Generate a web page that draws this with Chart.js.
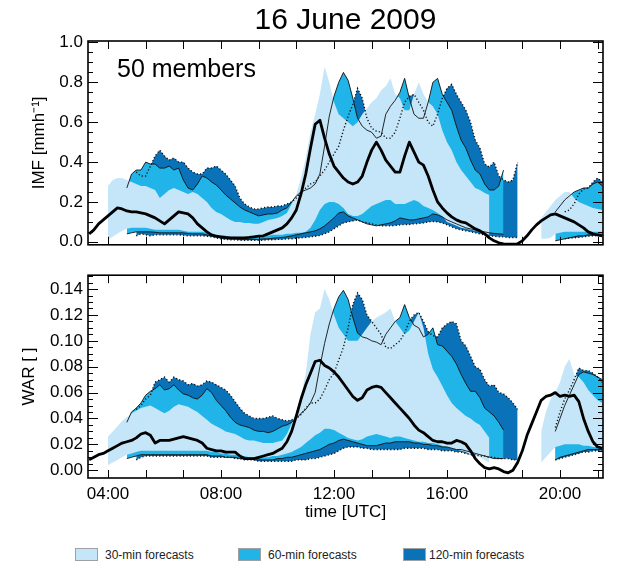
<!DOCTYPE html>
<html>
<head>
<meta charset="utf-8">
<title>16 June 2009</title>
<script src="https://cdn.jsdelivr.net/npm/chart.js@4.4.1/dist/chart.umd.min.js"></script>
<style>
  body { margin: 0; background: #fff; }
  #wrap { position: relative; width: 630px; height: 570px; overflow: hidden;
          font-family: "Liberation Sans", Arial, Helvetica, sans-serif; color: #000; }
  canvas { position: absolute; left: 0; }
  .title { position: absolute; left: 88px; width: 515px; top: 4px; text-align: center;
           font-size: 30px; line-height: 30px; white-space: nowrap; }
  .key { position: absolute; top: 548px; width: 21px; height: 11px; border: 1px solid #a0a0a0; }
  .klbl { position: absolute; top: 549px; font-size: 12px; line-height: 12px; white-space: nowrap; color: #222; }
</style>
</head>
<body>
<div id="wrap">
  <canvas id="imf" width="630" height="260" style="top:0"></canvas>
  <canvas id="war" width="630" height="270" style="top:260px"></canvas>
  <div class="title">16 June 2009</div>
  <div class="key" style="left:75px;background:#c4e6f8"></div>
  <div class="klbl" style="left:105px">30-min forecasts</div>
  <div class="key" style="left:238px;background:#20b4e8"></div>
  <div class="klbl" style="left:268px">60-min forecasts</div>
  <div class="key" style="left:403px;background:#0a72b8"></div>
  <div class="klbl" style="left:429px">120-min forecasts</div>
</div>
<script>
// one value every 10 minutes, 03:20 .. 21:30 UTC (one row per hour)
const _ = null;

// ---- IMF panel ----
const imfObs = [
  0.04, 0.06, 0.09, 0.11,
  0.13, 0.15, 0.17, 0.165, 0.155, 0.15,
  0.15, 0.145, 0.14, 0.13, 0.12, 0.105,
  0.09, 0.11, 0.13, 0.15, 0.145, 0.14,
  0.12, 0.09, 0.07, 0.05, 0.035, 0.028,
  0.025, 0.022, 0.02, 0.02, 0.02, 0.02,
  0.022, 0.025, 0.028, 0.03, 0.04, 0.05,
  0.06, 0.07, 0.09, 0.12, 0.16, 0.24,
  0.34, 0.47, 0.59, 0.61, 0.52, 0.44,
  0.38, 0.35, 0.32, 0.30, 0.29, 0.30,
  0.33, 0.40, 0.46, 0.50, 0.46, 0.41,
  0.38, 0.35, 0.35, 0.43, 0.50, 0.45,
  0.40, 0.385, 0.33, 0.26, 0.20, 0.17,
  0.145, 0.125, 0.11, 0.10, 0.095, 0.08,
  0.065, 0.055, 0.04, 0.02, 0.005, -0.005,
  -0.01, -0.012, -0.012, -0.01, 0.005, 0.03,
  0.06, 0.085, 0.105, 0.12, 0.135, 0.14,
  0.13, 0.12, 0.11, 0.10, 0.085, 0.07,
  0.05, 0.04, 0.035, 0.03
];
const imfLightHi = [
  _, _, _, _,
  0.28, 0.31, 0.32, 0.32, 0.31, 0.30,
  0.29, 0.28, 0.28, 0.27, 0.26, 0.22,
  0.24, 0.26, 0.27, 0.26, 0.25, 0.24,
  0.25, 0.24, 0.22, 0.20, 0.17, 0.15,
  0.14, 0.125, 0.11, 0.10, 0.10, 0.095,
  0.095, 0.09, 0.09, 0.10, 0.11, 0.115,
  0.12, 0.13, 0.145, 0.19, 0.24, 0.32,
  0.42, 0.55, 0.64, 0.74, 0.88, 0.80,
  0.70, 0.64, 0.62, 0.60, 0.58, 0.60,
  0.64, 0.67, 0.70, 0.72, 0.76, 0.78,
  0.82, 0.74, 0.72, 0.66, 0.66, 0.74,
  0.80, 0.74, 0.70, 0.68, 0.64, 0.56,
  0.50, 0.46, 0.40, 0.36, 0.33, 0.30,
  0.27, 0.26, 0.245, 0.235, _, _,
  _, _, _, _, _, _,
  _, _, 0.12, 0.15, 0.18, 0.21,
  0.23, 0.25, 0.25, 0.22, 0.20, 0.19,
  0.18, 0.17, 0.165, 0.16
];
const imfLightLo = [
  _, _, _, _,
  0.01, 0.025, 0.04, 0.055, 0.065, 0.07,
  0.07, 0.07, 0.07, 0.065, 0.06, 0.06,
  0.06, 0.06, 0.06, 0.06, 0.055, 0.05,
  0.05, 0.05, 0.05, 0.045, 0.04, 0.035,
  0.03, 0.03, 0.025, 0.025, 0.02, 0.02,
  0.02, 0.02, 0.02, 0.025, 0.03, 0.035,
  0.035, 0.035, 0.04, 0.04, 0.045, 0.045,
  0.05, 0.07, 0.11, 0.16, 0.19, 0.20,
  0.20, 0.19, 0.17, 0.14, 0.13, 0.13,
  0.14, 0.16, 0.18, 0.19, 0.20, 0.21,
  0.21, 0.19, 0.19, 0.19, 0.20, 0.21,
  0.20, 0.18, 0.17, 0.16, 0.145, 0.13,
  0.10, 0.09, 0.08, 0.07, 0.065, 0.06,
  0.055, 0.05, 0.04, 0.035, _, _,
  _, _, _, _, _, _,
  _, _, 0.015, 0.015, 0.02, 0.04,
  0.045, 0.05, 0.05, 0.05, 0.05, 0.05,
  0.05, 0.05, 0.05, 0.05
];
const imfMedHi = [
  _, _, _, _,
  _, _, _, _, 0.27, 0.34,
  0.36, 0.36, 0.40, 0.39, 0.39, 0.37,
  0.37, 0.38, 0.36, 0.37, 0.31, 0.27,
  0.26, 0.29, 0.33, 0.32, 0.30, 0.285,
  0.26, 0.235, 0.215, 0.195, 0.175, 0.16,
  0.15, 0.14, 0.13, 0.135, 0.14, 0.14,
  0.145, 0.16, 0.17, 0.20, 0.23, 0.25,
  0.26, 0.27, 0.29, 0.34, 0.48, 0.63,
  0.73, 0.80, 0.85, 0.81, 0.72, 0.62,
  0.58, 0.56, 0.55, 0.52, 0.53, 0.64,
  0.68, 0.71, 0.75, 0.82, 0.72, 0.64,
  0.62, 0.62, 0.70, 0.80, 0.82, 0.74,
  0.70, 0.66, 0.58, 0.51, 0.47, 0.41,
  0.36, 0.34, 0.29, 0.26, 0.26, 0.28,
  0.36, _, _, _, _, _,
  _, _, _, _, _, 0.15,
  0.18, 0.21, 0.23, 0.25, 0.26, 0.27,
  0.27, 0.29, 0.30, 0.28
];
const imfMedLo = [
  _, _, _, _,
  _, _, _, _, 0.04, 0.045,
  0.05, 0.05, 0.05, 0.05, 0.048, 0.045,
  0.045, 0.045, 0.045, 0.045, 0.045, 0.042,
  0.04, 0.04, 0.04, 0.035, 0.03, 0.025,
  0.02, 0.018, 0.015, 0.015, 0.012, 0.012,
  0.012, 0.012, 0.012, 0.015, 0.015, 0.018,
  0.02, 0.022, 0.025, 0.03, 0.035, 0.04,
  0.045, 0.05, 0.055, 0.065, 0.08, 0.10,
  0.12, 0.145, 0.15, 0.13, 0.12, 0.11,
  0.10, 0.09, 0.085, 0.08, 0.085, 0.09,
  0.095, 0.105, 0.12, 0.115, 0.11, 0.11,
  0.115, 0.12, 0.125, 0.14, 0.135, 0.125,
  0.11, 0.10, 0.09, 0.08, 0.07, 0.065,
  0.06, 0.055, 0.05, 0.045, 0.042, 0.04,
  0.038, _, _, _, _, _,
  _, _, _, _, _, 0.005,
  0.01, 0.015, 0.02, 0.025, 0.03, 0.03,
  0.035, 0.035, 0.035, 0.035
];
const imfDarkHi = [
  _, _, _, _,
  _, _, _, _, _, _,
  0.35, 0.33, 0.33, 0.38, 0.43, 0.46,
  0.43, 0.41, 0.42, 0.40, 0.40, 0.37,
  0.35, 0.34, 0.34, 0.37, 0.37, 0.38,
  0.36, 0.34, 0.31, 0.28, 0.22, 0.19,
  0.175, 0.165, 0.165, 0.17, 0.175, 0.175,
  0.18, 0.18, 0.19, 0.20, 0.22, 0.25,
  0.27, 0.29, 0.30, 0.33, 0.36, 0.40,
  0.44, 0.48, 0.56, 0.63, 0.69, 0.77,
  0.72, 0.62, 0.57, 0.555, 0.55, 0.52,
  0.52, 0.55, 0.62, 0.70, 0.73, 0.74,
  0.70, 0.66, 0.60, 0.58, 0.64, 0.72,
  0.77, 0.79, 0.74, 0.70, 0.66, 0.60,
  0.51, 0.47, 0.39, 0.375, 0.40, 0.33,
  0.31, 0.30, 0.31, 0.40, _, _,
  _, _, _, _, _, _,
  _, 0.15, 0.16, 0.19, 0.24, 0.265,
  0.27, 0.30, 0.32, 0.30
];
const imfDarkLo = [
  _, _, _, _,
  _, _, _, _, _, _,
  0.03, 0.04, 0.035, 0.03, 0.035, 0.035,
  0.035, 0.035, 0.035, 0.035, 0.033, 0.03,
  0.03, 0.03, 0.03, 0.028, 0.025, 0.02,
  0.015, 0.012, 0.01, 0.01, 0.008, 0.008,
  0.008, 0.008, 0.008, 0.008, 0.01, 0.01,
  0.012, 0.012, 0.015, 0.015, 0.018, 0.02,
  0.022, 0.025, 0.028, 0.032, 0.04, 0.05,
  0.065, 0.08, 0.095, 0.10, 0.105, 0.11,
  0.10, 0.095, 0.09, 0.085, 0.08, 0.08,
  0.08, 0.082, 0.085, 0.087, 0.087, 0.09,
  0.092, 0.095, 0.10, 0.102, 0.10, 0.095,
  0.085, 0.075, 0.065, 0.06, 0.055, 0.05,
  0.045, 0.04, 0.035, 0.03, 0.028, 0.025,
  0.025, 0.022, 0.022, 0.022, _, _,
  _, _, _, _, _, _,
  _, 0.015, 0.018, 0.02, 0.022, 0.025,
  0.028, 0.03, 0.03, 0.03
];

// ---- WAR panel ----
const warObs = [
  0.008, 0.010, 0.012, 0.013,
  0.015, 0.017, 0.019, 0.021, 0.022, 0.023,
  0.025, 0.028, 0.029, 0.027, 0.021, 0.023,
  0.023, 0.023, 0.024, 0.025, 0.026, 0.025,
  0.024, 0.023, 0.021, 0.017, 0.016, 0.015,
  0.015, 0.014, 0.014, 0.014, 0.011, 0.009,
  0.009, 0.009, 0.010, 0.011, 0.012, 0.013,
  0.015, 0.017, 0.022, 0.030, 0.042, 0.055,
  0.066, 0.075, 0.084, 0.085, 0.081, 0.079,
  0.076, 0.072, 0.067, 0.062, 0.057, 0.054,
  0.056, 0.062, 0.064, 0.065, 0.064, 0.060,
  0.056, 0.052, 0.048, 0.044, 0.040, 0.035,
  0.031, 0.029, 0.026, 0.023, 0.022, 0.022,
  0.021, 0.021, 0.023, 0.022, 0.020, 0.015,
  0.009, 0.005, 0.002, 0.001, 0.002, 0.001,
  -0.001, -0.002, 0.000, 0.006, 0.015, 0.027,
  0.036, 0.045, 0.054, 0.057, 0.058, 0.060,
  0.057, 0.058, 0.057, 0.058, 0.053, 0.040,
  0.030, 0.022, 0.018, 0.017
];
const warLightHi = [
  _, _, _, _,
  0.026, 0.030, 0.034, 0.038, 0.041, 0.044,
  0.046, 0.048, 0.049, 0.050, 0.048, 0.046,
  0.044, 0.046, 0.049, 0.051, 0.050, 0.049,
  0.047, 0.045, 0.042, 0.039, 0.036, 0.034,
  0.032, 0.030, 0.029, 0.028, 0.026, 0.024,
  0.023, 0.023, 0.022, 0.021, 0.021, 0.021,
  0.022, 0.023, 0.028, 0.036, 0.045, 0.058,
  0.075, 0.105, 0.122, 0.125, 0.140, 0.132,
  0.120, 0.110, 0.105, 0.100, 0.100, 0.100,
  0.105, 0.110, 0.115, 0.118, 0.120, 0.122,
  0.125, 0.115, 0.110, 0.105, 0.108, 0.115,
  0.122, 0.110, 0.090, 0.078, 0.072, 0.065,
  0.058, 0.052, 0.048, 0.045, 0.042, 0.040,
  0.037, 0.035, 0.030, 0.025, _, _,
  _, _, _, _, _, _,
  _, _, 0.030, 0.045, 0.055, 0.060,
  0.068, 0.080, 0.086, 0.074, 0.072, 0.068,
  0.062, 0.058, 0.054, 0.052
];
const warLightLo = [
  _, _, _, _,
  0.004, 0.006, 0.008, 0.010, 0.012, 0.013,
  0.014, 0.015, 0.015, 0.015, 0.015, 0.015,
  0.015, 0.015, 0.015, 0.015, 0.015, 0.015,
  0.015, 0.015, 0.015, 0.015, 0.014, 0.014,
  0.013, 0.013, 0.012, 0.012, 0.011, 0.011,
  0.010, 0.010, 0.010, 0.010, 0.010, 0.011,
  0.011, 0.012, 0.013, 0.014, 0.016, 0.018,
  0.021, 0.024, 0.027, 0.029, 0.032, 0.032,
  0.031, 0.029, 0.027, 0.025, 0.024, 0.023,
  0.024, 0.026, 0.027, 0.028, 0.027, 0.026,
  0.025, 0.026, 0.026, 0.025, 0.024, 0.023,
  0.022, 0.022, 0.021, 0.021, 0.020, 0.019,
  0.018, 0.017, 0.016, 0.015, 0.014, 0.012,
  0.011, 0.010, 0.008, 0.006, _, _,
  _, _, _, _, _, _,
  _, _, 0.006, 0.010, 0.014, 0.018,
  0.019, 0.020, 0.020, 0.020, 0.020, 0.019,
  0.019, 0.018, 0.018, 0.018
];
const warMedHi = [
  _, _, _, _,
  _, _, _, _, 0.037, 0.045,
  0.048, 0.052, 0.058, 0.061, 0.063, 0.066,
  0.062, 0.063, 0.066, 0.062, 0.059, 0.058,
  0.056, 0.055, 0.058, 0.063, 0.060, 0.054,
  0.050, 0.046, 0.041, 0.037, 0.035, 0.034,
  0.033, 0.031, 0.030, 0.030, 0.029, 0.030,
  0.032, 0.034, 0.035, 0.037, 0.040, 0.044,
  0.047, 0.052, 0.060, 0.080, 0.098, 0.113,
  0.125, 0.134, 0.139, 0.132, 0.118, 0.106,
  0.103, 0.102, 0.100, 0.099, 0.097, 0.105,
  0.110, 0.115, 0.118, 0.128, 0.118, 0.112,
  0.110, 0.103, 0.105, 0.110, 0.097, 0.096,
  0.092, 0.088, 0.082, 0.074, 0.067, 0.061,
  0.061, 0.056, 0.048, 0.045, 0.042, 0.037,
  0.031, _, _, _, _, _,
  _, _, _, _, _, 0.030,
  0.040, 0.050, 0.058, 0.066, 0.074, 0.076,
  0.075, 0.074, 0.072, 0.070
];
const warMedLo = [
  _, _, _, _,
  _, _, _, _, 0.009, 0.010,
  0.011, 0.012, 0.012, 0.012, 0.012, 0.012,
  0.012, 0.012, 0.012, 0.012, 0.012, 0.012,
  0.012, 0.012, 0.012, 0.012, 0.011, 0.011,
  0.011, 0.010, 0.010, 0.010, 0.009, 0.009,
  0.009, 0.008, 0.008, 0.008, 0.008, 0.008,
  0.009, 0.009, 0.010, 0.010, 0.011, 0.012,
  0.013, 0.014, 0.015, 0.016, 0.018, 0.020,
  0.021, 0.023, 0.024, 0.023, 0.022, 0.021,
  0.020, 0.019, 0.019, 0.019, 0.020, 0.021,
  0.021, 0.022, 0.022, 0.022, 0.022, 0.021,
  0.021, 0.020, 0.020, 0.019, 0.019, 0.018,
  0.018, 0.017, 0.016, 0.016, 0.015, 0.014,
  0.013, 0.012, 0.011, 0.010, 0.009, 0.009,
  0.009, _, _, _, _, _,
  _, _, _, _, _, 0.008,
  0.010, 0.011, 0.012, 0.013, 0.014, 0.015,
  0.016, 0.016, 0.016, 0.016
];
const warDarkHi = [
  _, _, _, _,
  _, _, _, _, _, _,
  0.047, 0.050, 0.055, 0.058, 0.068, 0.070,
  0.072, 0.068, 0.072, 0.070, 0.069, 0.066,
  0.067, 0.065, 0.066, 0.069, 0.068, 0.066,
  0.064, 0.062, 0.058, 0.053, 0.048, 0.044,
  0.042, 0.040, 0.040, 0.040, 0.041, 0.042,
  0.040, 0.039, 0.038, 0.039, 0.040, 0.043,
  0.048, 0.052, 0.052, 0.055, 0.062, 0.070,
  0.075, 0.085, 0.095, 0.110, 0.128, 0.137,
  0.132, 0.120, 0.115, 0.110, 0.105, 0.095,
  0.094, 0.097, 0.100, 0.106, 0.115, 0.120,
  0.122, 0.115, 0.107, 0.104, 0.103, 0.110,
  0.113, 0.115, 0.113, 0.100, 0.096, 0.088,
  0.080, 0.078, 0.070, 0.065, 0.066, 0.060,
  0.059, 0.056, 0.052, 0.047, _, _,
  _, _, _, _, _, 0.033,
  0.045, 0.055, 0.062, 0.070, 0.079, 0.077,
  0.077, 0.075, 0.072, 0.068
];
const warDarkLo = [
  _, _, _, _,
  _, _, _, _, _, _,
  0.008, 0.010, 0.011, 0.011, 0.011, 0.011,
  0.011, 0.011, 0.011, 0.011, 0.011, 0.011,
  0.011, 0.011, 0.011, 0.011, 0.010, 0.010,
  0.010, 0.010, 0.010, 0.009, 0.009, 0.008,
  0.008, 0.008, 0.007, 0.007, 0.007, 0.007,
  0.007, 0.007, 0.007, 0.007, 0.008, 0.008,
  0.008, 0.009, 0.009, 0.010, 0.011, 0.012,
  0.013, 0.015, 0.017, 0.018, 0.018, 0.018,
  0.017, 0.017, 0.016, 0.016, 0.016, 0.016,
  0.016, 0.016, 0.016, 0.017, 0.017, 0.017,
  0.017, 0.017, 0.016, 0.016, 0.016, 0.015,
  0.015, 0.015, 0.014, 0.014, 0.013, 0.012,
  0.012, 0.011, 0.011, 0.010, 0.010, 0.009,
  0.009, 0.009, 0.008, 0.008, _, _,
  _, _, _, _, _, 0.008,
  0.009, 0.010, 0.011, 0.012, 0.013, 0.014,
  0.014, 0.015, 0.015, 0.015
];

// axis ticks
const imfTicks = [0, 0.2, 0.4, 0.6, 0.8, 1.0];
const warTicks = [0, 0.02, 0.04, 0.06, 0.08, 0.10, 0.12, 0.14];
const hourLabels = [4, 8, 12, 16, 20];
const hourMarks = [4, 16 / 3, 20 / 3, 8, 28 / 3, 32 / 3, 12, 40 / 3, 44 / 3, 16, 52 / 3, 56 / 3, 20, 64 / 3];

// sample times in decimal hours
const times = imfObs.map((v, i) => 3 + 1 / 3 + i / 6);

const LIGHT = '#c4e6f8';
const MED = '#20b4e8';
const DARK = '#0a72b8';
const FONT = '"Liberation Sans", Arial, Helvetica, sans-serif';
const X_MIN = 3.292;
const X_MAX = 21.522;

Chart.defaults.font.family = FONT;
Chart.defaults.color = '#000';

function pts(values) {
  return values.map((v, i) => ({ x: times[i], y: v }));
}

// bands first (dark under medium under light), then the outline lines on top
function panelDatasets(obs, lightHi, lightLo, medHi, medLo, darkHi, darkLo) {
  const band = { borderWidth: 0, borderColor: 'transparent', pointRadius: 0 };
  const line = { pointRadius: 0, fill: false, borderColor: '#111' };
  return [
    { ...band, data: pts(darkHi), fill: 1, backgroundColor: DARK, order: 30 },
    { ...band, data: pts(darkLo), fill: false, order: 31 },
    { ...band, data: pts(medHi), fill: 3, backgroundColor: MED, order: 20 },
    { ...band, data: pts(medLo), fill: false, order: 21 },
    { ...band, data: pts(lightHi), fill: 5, backgroundColor: LIGHT, order: 10 },
    { ...band, data: pts(lightLo), fill: false, order: 11 },
    { ...line, data: pts(medHi), borderWidth: 0.9, order: 4 },
    { ...line, data: pts(medLo), borderWidth: 0.9, order: 4 },
    { ...line, data: pts(darkHi), borderWidth: 1.4, borderDash: [1.2, 2.2], order: 3 },
    { ...line, data: pts(darkLo), borderWidth: 1.4, borderDash: [1.2, 2.2], order: 3 },
    { ...line, data: pts(obs), borderWidth: 2.8, borderColor: '#000', borderJoinStyle: 'round', order: 1 }
  ];
}

// frame with inward ticks on all four sides, plus optional note text
const frameTicks = {
  id: 'frameTicks',
  afterDatasetsDraw(chart, args, opts) {
    const { ctx, chartArea: a } = chart;
    const x = chart.scales.x;
    const y = chart.scales.y;
    ctx.save();
    ctx.strokeStyle = '#000';
    ctx.lineWidth = 1;
    ctx.beginPath();
    for (let i = 0; i * opts.minor <= y.max + 1e-9; i++) {
      const py = Math.round(y.getPixelForValue(i * opts.minor)) + 0.5;
      const len = i % opts.perMajor === 0 ? 10 : 5;
      ctx.moveTo(a.left, py); ctx.lineTo(a.left + len, py);
      ctx.moveTo(a.right, py); ctx.lineTo(a.right - len, py);
    }
    hourMarks.forEach(t => {
      const px = Math.round(x.getPixelForValue(t)) + 0.5;
      ctx.moveTo(px, a.top); ctx.lineTo(px, a.top + 8);
      ctx.moveTo(px, a.bottom); ctx.lineTo(px, a.bottom - 8);
    });
    ctx.stroke();
    ctx.lineWidth = 1.6;
    ctx.strokeRect(a.left, a.top, a.right - a.left, a.bottom - a.top);
    if (opts.note) {
      ctx.fillStyle = '#000';
      ctx.font = '25px ' + FONT;
      ctx.textBaseline = 'alphabetic';
      ctx.fillText(opts.note, a.left + 29, a.top + 36);
    }
    ctx.restore();
  }
};

function yAxis(min, max, ticks, digits, title, titlePad) {
  return {
    min: min,
    max: max,
    afterBuildTicks: s => { s.ticks = ticks.map(v => ({ value: v })); },
    afterFit: s => { s.width = 88; },
    grid: { display: false, drawTicks: false },
    border: { display: false },
    ticks: { font: { size: 17 }, color: '#000', padding: 5, callback: v => Number(v).toFixed(digits) },
    title: { display: true, text: title, font: { size: 17 }, color: '#000', padding: { top: titlePad, bottom: 0 } }
  };
}

new Chart(document.getElementById('imf'), {
  type: 'line',
  data: { datasets: panelDatasets(imfObs, imfLightHi, imfLightLo, imfMedHi, imfMedLo, imfDarkHi, imfDarkLo) },
  options: {
    responsive: false,
    animation: false,
    events: [],
    layout: { padding: { left: 0, right: 27, top: 41, bottom: 11 } },
    plugins: {
      legend: { display: false },
      tooltip: { enabled: false },
      frameTicks: { minor: 0.05, perMajor: 4, note: '50 members' }
    },
    scales: {
      x: { type: 'linear', min: X_MIN, max: X_MAX, display: false },
      y: yAxis(-0.015, 1.0075, imfTicks, 1, 'IMF [mmh\u207B\u00B9]', 29)
    }
  },
  plugins: [frameTicks]
});

new Chart(document.getElementById('war'), {
  type: 'line',
  data: { datasets: panelDatasets(warObs, warLightHi, warLightLo, warMedHi, warMedLo, warDarkHi, warDarkLo) },
  options: {
    responsive: false,
    animation: false,
    events: [],
    layout: { padding: { left: 0, right: 27, top: 9, bottom: 0 } },
    plugins: {
      legend: { display: false },
      tooltip: { enabled: false },
      frameTicks: { minor: 0.005, perMajor: 4 }
    },
    scales: {
      x: {
        type: 'linear',
        min: X_MIN,
        max: X_MAX,
        afterBuildTicks: s => { s.ticks = hourLabels.map(v => ({ value: v })); },
        afterFit: s => { s.height = 52; },
        grid: { display: false, drawTicks: false },
        border: { display: false },
        ticks: {
          font: { size: 17 }, color: '#000', padding: 6, autoSkip: false, maxRotation: 0,
          callback: v => String(v).padStart(2, '0') + ':00'
        },
        title: { display: true, text: 'time [UTC]', font: { size: 17 }, color: '#000', padding: { top: 0, bottom: 7 } }
      },
      y: yAxis(-0.006, 0.1507, warTicks, 2, 'WAR [ ]', 19)
    }
  },
  plugins: [frameTicks]
});
</script>
</body>
</html>
